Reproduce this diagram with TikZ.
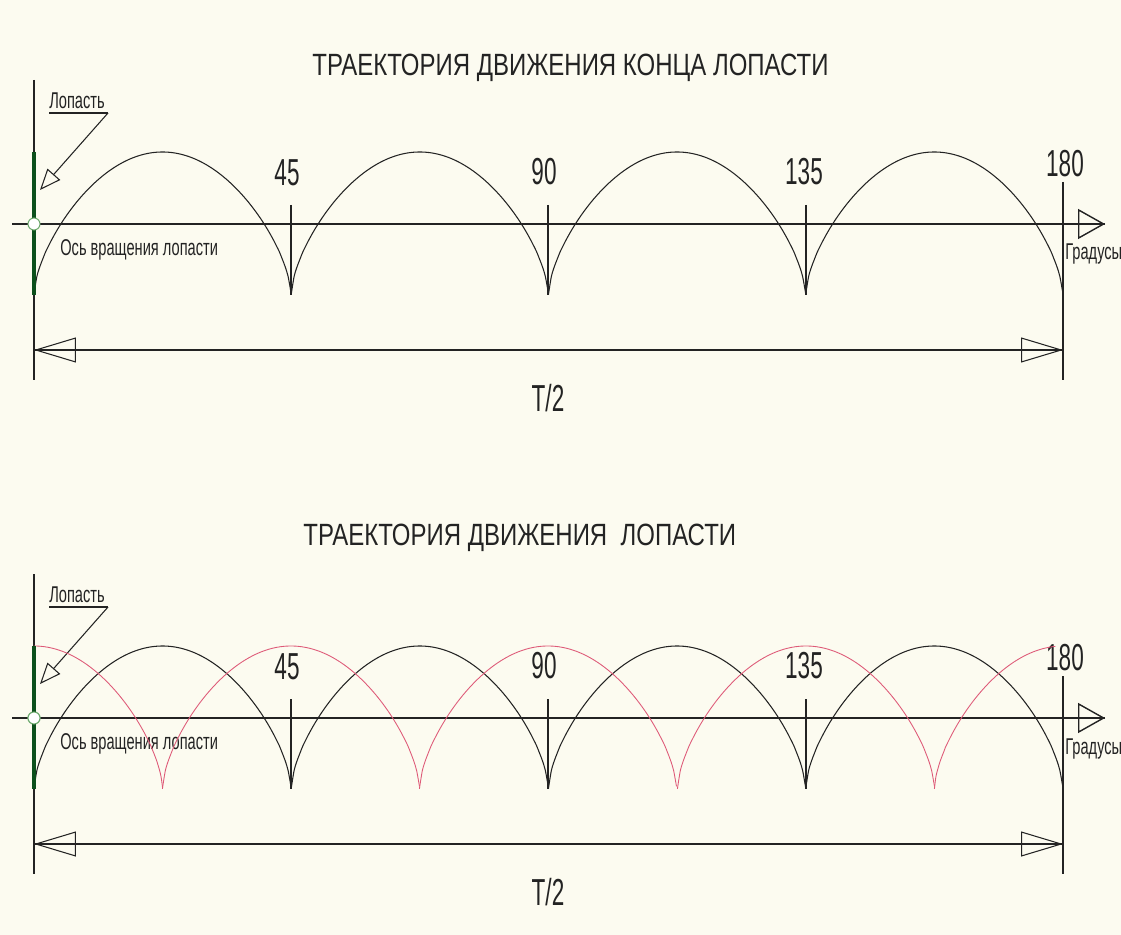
\documentclass[tikz,border=0pt]{standalone}
\usepackage{fontspec}
\setmainfont{Liberation Sans}
\newfontfamily\ttlfont[FakeStretch=0.78]{Liberation Sans}
\newfontfamily\numfont[FakeStretch=0.6]{Liberation Sans}
\newfontfamily\lblfont[FakeStretch=0.64]{Liberation Sans}
\usetikzlibrary{arrows.meta}
\definecolor{bg}{RGB}{252,251,240}
\definecolor{ink}{RGB}{35,35,35}
\definecolor{bladec}{RGB}{12,80,28}
\definecolor{ringc}{RGB}{110,170,110}
\definecolor{redc}{RGB}{222,90,120}
\newcommand\myarch[5]{\draw[#5] plot[domain=#3:#4, samples=90, variable=\u, smooth]
  ({#1+128.6*\u},{#2-143*((abs(cos(90*\u))+0.00001)^0.62)});}
\begin{document}
\begin{tikzpicture}[x=0.02cm,y=-0.02cm,
  ttl/.style={font=\ttlfont\fontsize{17.5}{19}\selectfont, text=ink, inner sep=0pt},
  num/.style={font=\numfont\fontsize{21.4}{23}\selectfont, text=ink, inner sep=0pt},
  lbl/.style={font=\lblfont\fontsize{13}{14}\selectfont, text=ink, inner sep=0pt},
  thinl/.style={draw=ink, line width=0.6pt},
  axisl/.style={draw=ink, line width=0.8pt},
  archl/.style={draw=ink, line width=0.6pt},
  redl/.style={draw=redc, line width=0.5pt},
  bladel/.style={draw=bladec, line width=2.8pt},
  axtip/.style={-{Triangle[open,length=0.54cm,width=0.6cm]}},
  dimtip/.style={{Triangle[open,length=0.84cm,width=0.5cm]}-{Triangle[open,length=0.84cm,width=0.5cm]}},
  leadtip/.style={-{Triangle[open,length=0.42cm,width=0.34cm]}}
]
\useasboundingbox[fill=bg] (0,0) rectangle (1121,935);

\foreach \off/\ttl/\tx/\ty/\p in {0/{ТРАЕКТОРИЯ ДВИЖЕНИЯ КОНЦА ЛОПАСТИ}/312/68/a,
                                  494/{ТРАЕКТОРИЯ ДВИЖЕНИЯ\ \ ЛОПАСТИ}/303/44/b}{
\begin{scope}[shift={(0,\off)}]
  \node[ttl, anchor=west] (\p-title) at (\tx,\ty) {\ttl};
  % left reference line
  \coordinate (\p-ltop) at (34,80);
  \coordinate (\p-lbot) at (34,380);
  \draw[thinl] (\p-ltop) -- (\p-lbot);
  % axis
  \coordinate (\p-ax0) at (12,224);
  \coordinate (\p-ax1) at (1105,224);
  \draw[axisl] (\p-ax0) -- (\p-ax1);
  \draw[axisl, axtip] (\p-ax0) -- (\p-ax1);
  % ticks and labels
  \foreach \k/\lab/\lx/\ly in {291/45/287/173, 548/90/544/172, 806/135/804/172}{
    \coordinate (\p-t\lab a) at (\k,205);
    \coordinate (\p-t\lab b) at (\k,295);
    \draw[thinl] (\p-t\lab a) -- (\p-t\lab b);
    \node[num] (\p-n\lab) at (\lx,\ly) {\lab};
  }
  \coordinate (\p-t180a) at (1063,182);
  \coordinate (\p-t180b) at (1063,380);
  \draw[thinl] (\p-t180a) -- (\p-t180b);
  \node[num] (\p-n180) at (1065,164) {180};
  % black arches
  \foreach \c in {162.5,419.75,677,934.25}{
    \myarch{\c}{295}{-1}{1}{archl}
  }
  % blade
  \coordinate (\p-b0) at (34,152);
  \coordinate (\p-b1) at (34,295);
  \draw[bladel] (\p-b0) -- (\p-b1);
  \node[circle, draw=ringc, fill=white, line width=0.6pt, minimum size=0.24cm, inner sep=0pt] (\p-hub) at (34,224) {};
  % labels
  \node[lbl] (\p-lop) at (77,101) {Лопасть};
  \coordinate (\p-u0) at (49,113);
  \coordinate (\p-u1) at (108,113);
  \coordinate (\p-tip) at (40,190);
  \draw[thinl] (\p-u0) -- (\p-u1);
  \draw[thinl, leadtip] (\p-u1) -- (\p-tip);
  \node[lbl, anchor=west] (\p-os) at (60,250) {Ось вращения лопасти};
  \node[lbl, anchor=base west] (\p-gr) at (1065,260) {Градусы};
  % dimension
  \coordinate (\p-d0) at (34,350);
  \coordinate (\p-d1) at (1063,350);
  \draw[thinl] (\p-d0) -- (\p-d1);
  \draw[thinl, dimtip] (\p-d0) -- (\p-d1);
  \node[num] (\p-T) at (548,398) {T/2};
\end{scope}
}
% red arches (second panel)
\begin{scope}[shift={(0,494)}]
  \myarch{34}{295}{0}{1}{redl}
  \foreach \c in {291,548,806}{
    \myarch{\c}{295}{-1}{1}{redl}
  }
  \myarch{1063}{295}{-1}{-0.06}{redl}
  \draw[bladel] (34,152) -- (34,295);
  \node[circle, draw=ringc, fill=white, line width=0.6pt, minimum size=0.24cm, inner sep=0pt] (b-hub2) at (34,224) {};
\end{scope}
\end{tikzpicture}
\end{document}
